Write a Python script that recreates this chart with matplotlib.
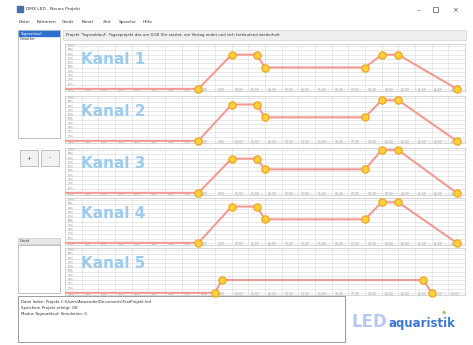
import matplotlib
matplotlib.use("Agg")
import matplotlib.pyplot as plt
from matplotlib.patches import Rectangle

W, H = 473, 345

# channel data: time (hours) and level (%)
k1_t = [0, 8, 10, 11.5, 12, 18, 19, 20, 23.5]
k1_v = [0, 0, 80, 80, 50, 50, 80, 80, 0]
k2_t = [0, 8, 10, 11.5, 12, 18, 19, 20, 23.5]
k2_v = [0, 0, 85, 85, 55, 55, 95, 95, 0]
k3_t = [0, 8, 10, 11.5, 12, 18, 19, 20, 23.5]
k3_v = [0, 0, 80, 80, 55, 55, 100, 100, 0]
k4_t = [0, 8, 10, 11.5, 12, 18, 19, 20, 23.5]
k4_v = [0, 0, 85, 85, 55, 55, 95, 95, 0]
k5_t = [0, 9, 9.4, 21.5, 22]
k5_v = [0, 0, 30, 30, 0]

channels = [("Kanal 1", k1_t, k1_v), ("Kanal 2", k2_t, k2_v),
            ("Kanal 3", k3_t, k3_v), ("Kanal 4", k4_t, k4_v),
            ("Kanal 5", k5_t, k5_v)]
panel_tops = [44, 96, 148, 198, 248]
hours = list(range(24))
y_ticks = list(range(0, 101, 10))

LINE = "#f29b92"
DOT_FILL = "#ffd13a"
DOT_EDGE = "#f0a323"
KANAL = "#9ccbf0"


def px_axes(fig, x0, y0, x1, y1):
    return fig.add_axes([x0 / W, 1 - y1 / H, (x1 - x0) / W, (y1 - y0) / H])


fig = plt.figure(figsize=(W / 100, H / 100), dpi=100)
fig.patch.set_facecolor("white")

# ui layer in pixel coordinates
ui = px_axes(fig, 0, 0, W, H)
ui.set_xlim(0, W)
ui.set_ylim(H, 0)
ui.axis("off")

# title bar
ui.add_patch(Rectangle((17, 6), 6, 6, color="#4a6fa8"))
ui.text(26, 9, "DMX LED - Neues Projekt", fontsize=3.2, va="center", color="#333333")
ui.text(418, 10, "–", fontsize=5, ha="center", va="center", color="#555555")
ui.add_patch(Rectangle((433, 7), 5, 5, fill=False, ec="#555555", lw=0.5))
ui.text(455, 10, "×", fontsize=5, ha="center", va="center", color="#555555")

# menu
for x, label in zip([19, 37, 62, 82, 103, 119, 143],
                    ["Datei", "Editieren", "Gerät", "Kanal", "Zeit", "Sprache", "Hilfe"]):
    ui.text(x, 22, label, fontsize=3.2, va="center", color="#333333")

# left list box
ui.add_patch(Rectangle((18, 30), 42, 108, fc="white", ec="#b5b5b5", lw=0.6))
ui.add_patch(Rectangle((19, 31), 40, 5, color="#2f6fcf"))
ui.text(20, 33.5, "Tagesablauf", fontsize=2.6, va="center", color="white")
ui.text(20, 39.5, "Gewitter", fontsize=2.6, va="center", color="#333333")

# buttons
for x0, s in [(20, "+"), (41, "-")]:
    ui.add_patch(Rectangle((x0, 150), 18, 16, fc="#f2f2f2", ec="#b8b8b8", lw=0.6))
    ui.text(x0 + 9, 158, s, fontsize=4, ha="center", va="center", color="#555555")

# lower left box
ui.add_patch(Rectangle((18, 238), 42, 6, fc="#e6e6e6", ec="#c8c8c8", lw=0.5))
ui.text(20, 241, "Gerät", fontsize=2.6, va="center", color="#333333")
ui.add_patch(Rectangle((18, 245), 42, 48, fc="white", ec="#b5b5b5", lw=0.6))

# log box
ui.add_patch(Rectangle((18, 296), 327, 46, fc="white", ec="#9a9a9a", lw=0.7))
for y, line in zip([302, 308, 314],
                   ["Datei laden: Projekt C:\\Users\\Anwender\\Documents\\TestProjekt.led",
                    "Speichern Projekt erfolgt: OK",
                    "Modus Tagesablauf: Simulation: 0"]):
    ui.text(21, y, line, fontsize=2.8, va="center", color="#333333")

# logo
ui.text(351, 322, "LED", fontsize=12, fontweight="bold", va="center", color="#b7c9f2")
ui.text(388, 324, "aquaristik", fontsize=8.5, fontweight="bold", va="center", color="#3b78d2")
ui.text(442, 313, "◆", fontsize=4, va="center", color="#9ccc5a")

# header bar above charts
ui.add_patch(Rectangle((63, 30), 403, 10, fc="#efefef", ec="#d0d0d0", lw=0.5))
ui.text(66, 35, "Projekt 'Tagesablauf': Tagesprojekt das um 0:00 Uhr startet, am Vortag endet und sich fortlaufend wiederholt",
        fontsize=2.8, va="center", color="#333333")

for (name, t, v), top in zip(channels, panel_tops):
    ax = px_axes(fig, 65, top, 465, top + 47)
    ax.set_xlim(0, 24)
    ax.set_ylim(-5, 105)
    ax.set_xticks(hours)
    ax.set_yticks(y_ticks)
    ax.grid(True, color="#dedede", lw=0.5)
    ax.tick_params(length=0, labelbottom=False, labelleft=False)
    for s in ax.spines.values():
        s.set_color("#cfcfcf")
        s.set_linewidth(0.6)
    for h in hours:
        ax.text(h + 0.15, -2, f"{h}:00", fontsize=2.2, va="center", color="#888888", zorder=1)
    for yv in y_ticks[1:]:
        ax.text(0.15, yv, f"{yv}%", fontsize=2.0, va="center", color="#888888", zorder=1)
    ax.text(0.04, 0.66, name, transform=ax.transAxes, fontsize=11, fontweight="bold",
            color=KANAL, va="center", zorder=2)
    ax.plot(t, v, color=LINE, lw=1.5, zorder=3, solid_capstyle="butt")
    ax.plot(t[1:], v[1:], "o", ms=5.2, mfc=DOT_FILL, mec=DOT_EDGE, mew=0.9, zorder=4,
            clip_on=False)

fig.savefig("out.png", dpi=100)
